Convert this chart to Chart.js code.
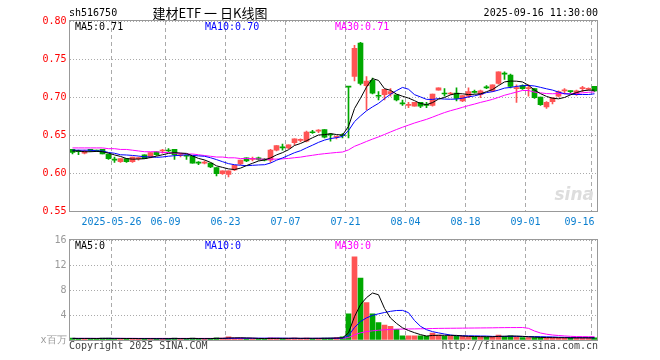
<!DOCTYPE html>
<html>
<head>
<meta charset="utf-8">
<script src="https://cdn.jsdelivr.net/npm/chart.js@4.4.1/dist/chart.umd.min.js"></script>
<style>
  body { margin: 0; background: #fff; width: 660px; height: 360px; overflow: hidden; position: relative; }
  canvas { position: absolute; left: 0; }
  #kline { top: 0; }
  #volume { top: 230px; }
</style>
</head>
<body>
<canvas id="kline" width="660" height="230"></canvas>
<canvas id="volume" width="660" height="130"></canvas>
<script>
const dates = ['2025-05-15','2025-05-16','2025-05-19','2025-05-20','2025-05-21','2025-05-22','2025-05-23','2025-05-26','2025-05-27','2025-05-28','2025-05-29','2025-05-30',
  '2025-06-03','2025-06-04','2025-06-05','2025-06-06','2025-06-09','2025-06-10','2025-06-11','2025-06-12','2025-06-13','2025-06-16','2025-06-17','2025-06-18','2025-06-19','2025-06-20',
  '2025-06-23','2025-06-24','2025-06-25','2025-06-26','2025-06-27','2025-06-30','2025-07-01','2025-07-02','2025-07-03','2025-07-04','2025-07-07','2025-07-08','2025-07-09','2025-07-10',
  '2025-07-11','2025-07-14','2025-07-15','2025-07-16','2025-07-17','2025-07-18','2025-07-21','2025-07-22','2025-07-23','2025-07-24','2025-07-25','2025-07-28','2025-07-29','2025-07-30',
  '2025-07-31','2025-08-01','2025-08-04','2025-08-05','2025-08-06','2025-08-07','2025-08-08','2025-08-11','2025-08-12','2025-08-13','2025-08-14','2025-08-15','2025-08-18','2025-08-19',
  '2025-08-20','2025-08-21','2025-08-22','2025-08-25','2025-08-26','2025-08-27','2025-08-28','2025-08-29','2025-09-01','2025-09-02','2025-09-03','2025-09-04','2025-09-05','2025-09-08',
  '2025-09-09','2025-09-10','2025-09-11','2025-09-12','2025-09-15','2025-09-16'];

const tickDates = ['2025-05-26','2025-06-09','2025-06-23','2025-07-07','2025-07-21','2025-08-04','2025-08-18','2025-09-01','2025-09-16'];
const tickTexts = ['2025-05-26','06-09','06-23','07-07','07-21','08-04','08-18','09-01','09-16'];
const priceTicks = [0.55, 0.60, 0.65, 0.70, 0.75, 0.80];
const volumeTicks = [0, 4, 8, 12, 16];

const open = [.631,.629,.626,.631,.630,.631,.625,.618,.615,.619,.615,.619,.624,.621,.628,.629,.630,.631,.623,.623,
  .622,.614,.613,.613,.607,.599,.598,.604,.612,.620,.618,.620,.618,.617,.630,.634,.633,.640,.643,.642,
  .654,.655,.657,.651,.647,.650,.714,.727,.771,.715,.722,.702,.703,.704,.703,.692,.689,.688,.693,.690,
  .689,.709,.705,.704,.705,.695,.701,.707,.703,.713,.708,.718,.731,.729,.711,.715,.711,.711,.700,.687,
  .694,.701,.708,.708,.703,.711,.710,.714];
const high = [.631,.630,.630,.631,.630,.631,.625,.621,.619,.619,.621,.621,.624,.627,.628,.631,.632,.631,.626,.624,
  .622,.615,.616,.613,.607,.603,.603,.610,.617,.620,.621,.621,.619,.631,.636,.638,.637,.645,.645,.655,
  .656,.657,.657,.652,.649,.652,.714,.768,.772,.727,.725,.707,.710,.711,.703,.696,.693,.693,.693,.693,
  .704,.712,.711,.706,.712,.702,.712,.709,.709,.715,.716,.733,.733,.730,.716,.716,.716,.711,.700,.694,
  .699,.708,.711,.708,.709,.714,.712,.714];
const low = [.625,.624,.625,.628,.628,.625,.618,.614,.614,.614,.614,.617,.619,.620,.623,.626,.628,.618,.621,.618,
  .613,.611,.612,.607,.596,.598,.595,.603,.611,.615,.616,.617,.616,.614,.629,.630,.632,.637,.641,.641,
  .652,.653,.646,.642,.645,.646,.646,.721,.716,.683,.704,.696,.696,.701,.695,.689,.686,.688,.686,.686,
  .688,.709,.701,.703,.695,.694,.699,.705,.699,.711,.707,.717,.723,.712,.693,.710,.701,.698,.689,.685,
  .691,.700,.704,.705,.702,.707,.709,.707];
const close = [.627,.628,.629,.629,.629,.625,.619,.617,.619,.615,.621,.620,.619,.627,.624,.630,.629,.624,.624,.622,
  .613,.613,.614,.608,.599,.603,.603,.610,.617,.616,.618,.618,.617,.630,.636,.633,.637,.645,.643,.654,
  .653,.655,.647,.650,.648,.649,.713,.764,.718,.721,.705,.701,.710,.707,.696,.691,.689,.693,.688,.689,
  .704,.712,.704,.705,.698,.702,.707,.706,.708,.712,.716,.733,.730,.714,.711,.711,.711,.699,.690,.693,
  .699,.707,.708,.707,.708,.711,.711,.708];

const ma5 = [.629,.629,.628,.628,.6284,.628,.6262,.6238,.6218,.619,.6182,.6184,.6188,.6204,.6222,.624,.6258,.6268,.6262,.6258,
  .6224,.6192,.6172,.614,.6094,.6074,.6054,.6046,.6064,.6098,.6128,.6158,.6172,.6198,.6238,.6268,.6306,.6362,.6388,.6424,
  .6464,.65,.6504,.6518,.6506,.6498,.6614,.6848,.6984,.713,.7242,.7218,.711,.7088,.7038,.701,.6986,.6952,.6914,.69,
  .6926,.6972,.6994,.7028,.7046,.7042,.7032,.7036,.7042,.707,.7098,.715,.7198,.721,.7208,.7198,.7154,.7092,.7044,.7008,
  .6984,.6976,.6994,.7028,.7058,.7082,.709,.709];
const ma10 = [.630,.630,.630,.630,.629,.629,.627,.626,.624,.6237,.6231,.6223,.6213,.6211,.6206,.6211,.6221,.6228,.6233,.624,
  .6232,.6225,.622,.6201,.6176,.6149,.6123,.6109,.6102,.6096,.6101,.6106,.6109,.6131,.6168,.6198,.6232,.6267,.6293,.6331,
  .6366,.6403,.6433,.6453,.6465,.6481,.6557,.6676,.6751,.6818,.687,.6916,.6979,.7036,.7084,.7126,.7102,.7031,.7001,.6969,
  .6968,.6979,.6973,.6971,.6973,.6984,.7002,.7015,.7035,.7058,.707,.7091,.7117,.7126,.7139,.7148,.7152,.7145,.7127,.7108,
  .7091,.7065,.7043,.7036,.7033,.7033,.7033,.7042];
const ma30 = [.633,.633,.633,.633,.633,.633,.632,.632,.631,.631,.630,.629,.628,.628,.628,.627,.627,.626,.626,.625,
  .625,.624,.623,.622,.621,.621,.620,.620,.619,.6191,.6188,.6185,.6181,.6181,.6183,.6186,.6192,.6201,.6209,.6222,
  .6233,.6245,.6254,.6262,.627,.6276,.6304,.6351,.6382,.6415,.6446,.6475,.6507,.654,.6572,.6602,.663,.6658,.6682,.6706,
  .6735,.6766,.6795,.682,.6841,.6864,.6887,.6907,.6929,.6948,.6969,.6995,.7023,.7044,.7065,.7086,.7085,.7064,.7055,.7045,
  .7043,.7045,.7044,.7044,.7048,.7055,.7062,.7067];

// volume, millions of shares
const volume = [0.3,0.25,0.2,0.2,0.25,0.3,0.3,0.25,0.2,0.25,0.2,0.2,0.25,0.2,0.2,0.2,0.25,0.3,0.2,0.2,
  0.3,0.2,0.2,0.25,0.35,0.3,0.5,0.3,0.3,0.25,0.2,0.2,0.2,0.35,0.3,0.25,0.25,0.3,0.25,0.3,
  0.25,0.25,0.3,0.3,0.4,0.5,4.2,13.3,9.9,6.0,4.2,2.8,2.4,2.2,1.7,0.65,0.65,0.65,0.65,0.6,
  1.1,0.8,0.6,0.6,0.6,0.6,0.5,0.5,0.5,0.5,0.6,0.8,0.6,0.65,0.5,0.4,0.4,0.4,0.4,0.35,
  0.35,0.35,0.35,0.35,0.35,0.35,0.35,0.35];
const volMa5 = [.25,.25,.25,.25,.24,.25,.26,.26,.25,.24,.24,.22,.22,.22,.21,.21,.22,.23,.23,.23,
  .25,.24,.22,.23,.26,.26,.32,.34,.35,.33,.31,.25,.23,.24,.25,.26,.27,.29,.27,.27,
  .27,.27,.27,.28,.31,.35,1.14,3.74,5.66,6.78,7.52,7.24,5.06,3.52,2.66,1.95,1.52,1.17,.86,.64,
  .73,.76,.75,.74,.74,.64,.58,.56,.54,.52,.52,.58,.6,.63,.63,.59,.51,.47,.42,.39,
  .38,.37,.36,.35,.35,.35,.35,.35];
const volMa10 = [.25,.25,.25,.25,.25,.25,.25,.25,.25,.25,.25,.24,.24,.23,.23,.22,.22,.23,.23,.22,
  .23,.23,.22,.23,.24,.25,.27,.28,.3,.29,.28,.29,.29,.3,.3,.29,.27,.26,.25,.26,
  .26,.27,.27,.28,.29,.31,.7,2.0,2.96,3.54,3.94,4.19,4.4,4.59,4.72,4.74,4.38,3.12,2.19,1.65,
  1.34,1.14,.96,.8,.69,.69,.67,.66,.64,.63,.58,.58,.58,.59,.58,.56,.55,.54,.53,.51,
  .49,.44,.42,.39,.37,.37,.36,.35];
const volMa30 = [.26,.26,.26,.26,.26,.26,.26,.26,.26,.26,.26,.26,.26,.26,.26,.26,.26,.26,.26,.26,
  .26,.26,.26,.26,.26,.26,.26,.26,.26,.26,.26,.26,.26,.26,.26,.26,.26,.26,.26,.26,
  .26,.26,.26,.26,.27,.27,.39,.83,1.15,1.34,1.47,1.56,1.63,1.69,1.74,1.75,1.77,1.78,1.8,1.81,
  1.84,1.86,1.87,1.88,1.89,1.9,1.91,1.92,1.93,1.94,1.95,1.97,1.98,1.99,1.99,2.0,1.87,1.44,1.12,.93,
  .8,.72,.65,.59,.55,.54,.53,.52];

const UP = '#ff5454';
const DOWN = '#00a800';
const GRID = '#aaaaaa';
const MONO = '"DejaVu Sans Mono", monospace';
const barColors = close.map((c, i) => (c >= open[i] ? UP : DOWN));

function frameAndText(items) {
  return {
    id: 'frameAndText',
    afterDraw(chart) {
      const { ctx, chartArea: a } = chart;
      ctx.save();
      ctx.strokeStyle = '#999';
      ctx.lineWidth = 1;
      ctx.strokeRect(Math.round(a.left) - 0.5, Math.round(a.top) - 0.5,
        Math.round(a.right - a.left), Math.round(a.bottom - a.top) + 1);
      ctx.textBaseline = 'middle';
      items.forEach(t => {
        ctx.font = t.font || `10px ${MONO}`;
        ctx.fillStyle = t.color || '#000';
        ctx.textAlign = t.align || 'left';
        ctx.fillText(t.text, t.x, t.y);
      });
      ctx.restore();
    },
  };
}

function xAxis(showLabels) {
  return {
    type: 'category',
    offset: true,
    grid: {
      offset: true,
      drawTicks: false,
      color: c => (c.index < dates.length && tickDates.includes(dates[c.index]) ? GRID : 'rgba(0,0,0,0)'),
    },
    border: { display: false, dash: [4, 3] },
    ticks: {
      display: showLabels,
      autoSkip: false,
      maxRotation: 0,
      padding: 5,
      labelOffset: -3,
      color: '#0a7fd0',
      font: { family: MONO, size: 10 },
      callback: (v, i) => {
        const k = tickDates.indexOf(dates[i]);
        if (k < 0) return '';
        return k === tickDates.length - 1 ? tickTexts[k] + '    ' : tickTexts[k];
      },
    },
    afterFit: s => { s.height = showLabels ? 19 : 0; },
  };
}

function maLine(data, color) {
  return { type: 'line', data, borderColor: color, borderWidth: 1, pointRadius: 0, tension: 0, order: 0 };
}

new Chart(document.getElementById('kline'), {
  type: 'bar',
  data: {
    labels: dates,
    datasets: [
      { data: low.map((l, i) => [l, high[i]]), backgroundColor: barColors, barThickness: 1, grouped: false, order: 2 },
      { data: open.map((o, i) => [o, close[i]]), backgroundColor: barColors, barThickness: 5, minBarLength: 1, grouped: false, order: 1 },
      maLine(ma5, '#000000'),
      maLine(ma10, '#0000ff'),
      maLine(ma30, '#ff00ff'),
    ],
  },
  options: {
    responsive: false,
    animation: false,
    layout: { padding: { left: 0, right: 62.5, top: 21, bottom: 0 } },
    plugins: { legend: { display: false }, tooltip: { enabled: false } },
    scales: {
      x: xAxis(true),
      y: {
        min: priceTicks[0],
        max: priceTicks[priceTicks.length - 1],
        afterBuildTicks: s => { s.ticks = priceTicks.map(v => ({ value: v })); },
        grid: { drawTicks: false, color: GRID },
        border: { display: false, dash: [1, 2] },
        ticks: { padding: 3, color: '#ff0000', font: { family: MONO, size: 10 }, callback: v => v.toFixed(2) },
        afterFit: s => { s.width = 69.5; },
      },
    },
  },
  plugins: [frameAndText([
    { text: 'sh516750', x: 69, y: 13 },
    { text: '建材ETF 一 日K线图', x: 210, y: 13, align: 'center', font: '13px "Noto Sans CJK SC", sans-serif' },
    { text: '2025-09-16 11:30:00', x: 598, y: 13, align: 'right' },
    { text: 'MA5:0.71', x: 75, y: 27 },
    { text: 'MA10:0.70', x: 205, y: 27, color: '#0000ff' },
    { text: 'MA30:0.71', x: 335, y: 27, color: '#ff00ff' },
    { text: 'sina', x: 594, y: 196, align: 'right', color: '#dddddd', font: 'italic bold 17px "DejaVu Sans", sans-serif' },
  ])],
});

new Chart(document.getElementById('volume'), {
  type: 'bar',
  data: {
    labels: dates,
    datasets: [
      { data: volume, backgroundColor: barColors, barThickness: 5, grouped: false, order: 1 },
      maLine(volMa5, '#000000'),
      maLine(volMa10, '#0000ff'),
      maLine(volMa30, '#ff00ff'),
    ],
  },
  options: {
    responsive: false,
    animation: false,
    layout: { padding: { left: 0, right: 62.5, top: 10, bottom: 20 } },
    plugins: { legend: { display: false }, tooltip: { enabled: false } },
    scales: {
      x: xAxis(false),
      y: {
        min: volumeTicks[0],
        max: volumeTicks[volumeTicks.length - 1],
        afterBuildTicks: s => { s.ticks = volumeTicks.map(v => ({ value: v })); },
        grid: { drawTicks: false, color: GRID },
        border: { display: false, dash: [1, 2] },
        ticks: { padding: 3, color: '#999999', font: { family: MONO, size: 10 }, callback: v => (v === 0 ? 'x百万' : v) },
        afterFit: s => { s.width = 69.5; },
      },
    },
  },
  plugins: [frameAndText([
    { text: 'MA5:0', x: 75, y: 16 },
    { text: 'MA10:0', x: 205, y: 16, color: '#0000ff' },
    { text: 'MA30:0', x: 335, y: 16, color: '#ff00ff' },
    { text: 'Copyright 2025 SINA.COM', x: 69, y: 116, color: '#444' },
    { text: 'http://finance.sina.com.cn', x: 598, y: 116, align: 'right', color: '#444' },
  ])],
});
</script>
</body>
</html>
